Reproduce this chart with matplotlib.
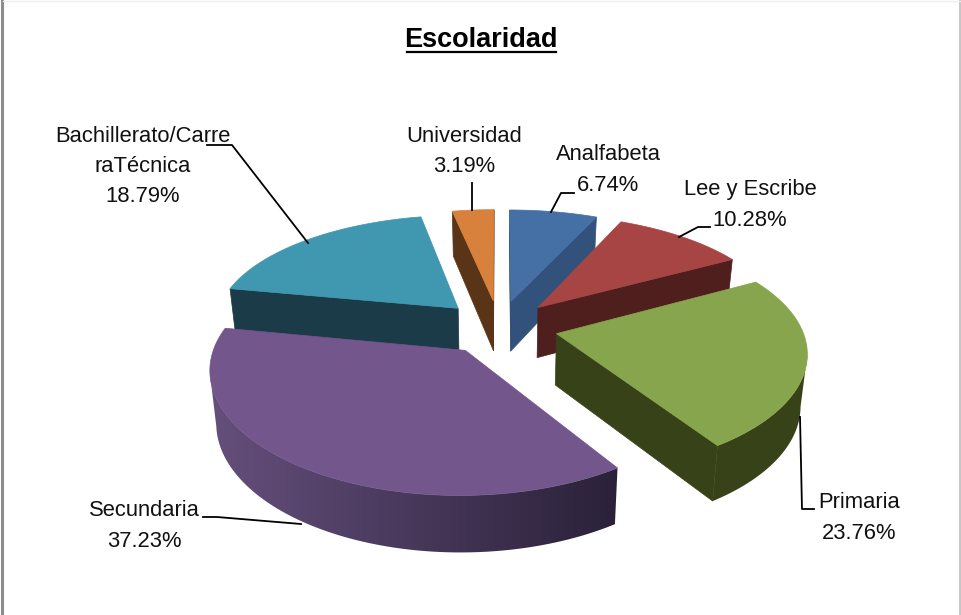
import numpy as np
import matplotlib
matplotlib.use('Agg')
import matplotlib.pyplot as plt
from matplotlib.patches import Polygon
from matplotlib.colors import to_rgb

categories = ['Analfabeta', 'Lee y Escribe', 'Primaria', 'Secundaria', 'Bachillerato/Carre\nraTécnica', 'Universidad']
values = [6.74, 10.28, 23.76, 37.23, 18.79, 3.19]
top_colors = ['#4570A6', '#A64543', '#87A54C', '#72568C', '#3F97B0', '#D8813C']
side_colors = ['#32527C', '#4F1F1E', '#384219', '#2A2139', '#1A3B47', '#5A3416']
arc_light = ['#32527C', '#4F1F1E', '#384219', '#654F7C', '#1A3B47', '#5A3416']

# label centre, first line y, and leader line (pixels)
label_pos = [(608, 155), (750, 190), (859, 503), (144, 511), (143, 136), (464, 136)]
leaders = [[(574, 193), (561, 193), (551, 212)],
           [(710, 227), (698, 227), (679, 237)],
           [(814, 509), (802, 509), (800, 417)],
           [(203, 517), (217, 517), (301, 524)],
           [(207, 145), (232, 145), (308, 243)],
           [(472, 183), (472, 210)]]
draw_order = [5, 0, 4, 1, 2, 3]

# projection of the tilted pie
cx, cy = 499., 327.
A, B = 245., 113.5
kx, ky = 0.14, 0.16
explode = 0.24
shrink = 0.978

def project(X, Y):
    return cx + A*X/(1 + kx*Y), cy - B*Y/(1 + ky*Y)

def drop(sx, Y):
    return cx + shrink*(sx - cx), 51 - 5*Y

fig = plt.figure(figsize=(9.61, 6.15), dpi=100)
ax = fig.add_axes([0, 0, 1, 1])
ax.axis('off')

edges = np.cumsum([0] + values)/np.sum(values)*2*np.pi

for i in draw_order:
    a0, a1 = edges[i], edges[i+1]
    mid = (a0 + a1)/2
    ox, oy = explode*np.sin(mid), explode*np.cos(mid)
    t = np.linspace(a0, a1, 120)
    gx = np.r_[ox, ox + np.sin(t)]
    gy = np.r_[oy, oy + np.cos(t)]
    sx, sy = project(gx, gy)
    bx, d = drop(sx, gy)
    by = sy + d
    n = len(sx)
    z = 2*draw_order.index(i) + 2
    # flat radial faces
    for j, m in [(0, 1), (n-1, 0)]:
        if sx[m] < sx[j]:
            ax.add_patch(Polygon([(sx[j], sy[j]), (sx[m], sy[m]), (bx[m], by[m]), (bx[j], by[j])],
                                 closed=True, fc=side_colors[i], ec=side_colors[i], lw=0.5, zorder=z))
    # outer face with left to right shading
    run = [j for j in range(1, n) if j == n-1 and sx[j] < sx[j-1] or j < n-1 and sx[j+1] < sx[j]]
    if len(run) > 1:
        xs = np.r_[sx[run], bx[run][::-1]]
        ys = np.r_[sy[run], by[run][::-1]]
        face = Polygon(np.c_[xs, ys], closed=True, fc='none', ec='none', zorder=z, transform=ax.transData)
        ax.add_patch(face)
        c0, c1 = np.array(to_rgb(arc_light[i])), np.array(to_rgb(side_colors[i]))
        ramp = np.linspace(0, 1, 256)[None, :, None]
        img = ax.imshow(c0 + (c1 - c0)*ramp, extent=(xs.min() - 1, xs.max() + 1, ys.max() + 1, ys.min() - 1),
                        aspect='auto', zorder=z, interpolation='bilinear')
        img.set_clip_path(face)
    ax.add_patch(Polygon(np.c_[sx, sy], closed=True, fc=top_colors[i], ec=top_colors[i], lw=0.5, zorder=z+1))

for i, name in enumerate(categories):
    x, y = label_pos[i]
    lines = name.split('\n') + ['%.2f%%' % values[i]]
    for j, line in enumerate(lines):
        ax.text(x, y + j*30.5, line, ha='center', va='center', fontsize=15.8, family='Liberation Sans', color='#111111', zorder=30)
    ax.plot(*zip(*leaders[i]), color='black', lw=1.3, zorder=29)

ax.text(481, 40, 'Escolaridad', ha='center', va='center', fontsize=19.5, fontweight='bold', family='Liberation Sans', color='black')
ax.plot([407, 556], [52, 52], color='black', lw=1.6)

# chart frame
ax.plot([2, 2], [0, 615], color='#8C8C8C', lw=2.2)
ax.plot([960, 960], [0, 615], color='#BBBBBB', lw=1.2)
ax.plot([3, 961], [0.5, 0.5], color='#EEEEEE', lw=1)

ax.set_xlim(0, 961)
ax.set_ylim(615, 0)
fig.savefig('out.png', dpi=100)
